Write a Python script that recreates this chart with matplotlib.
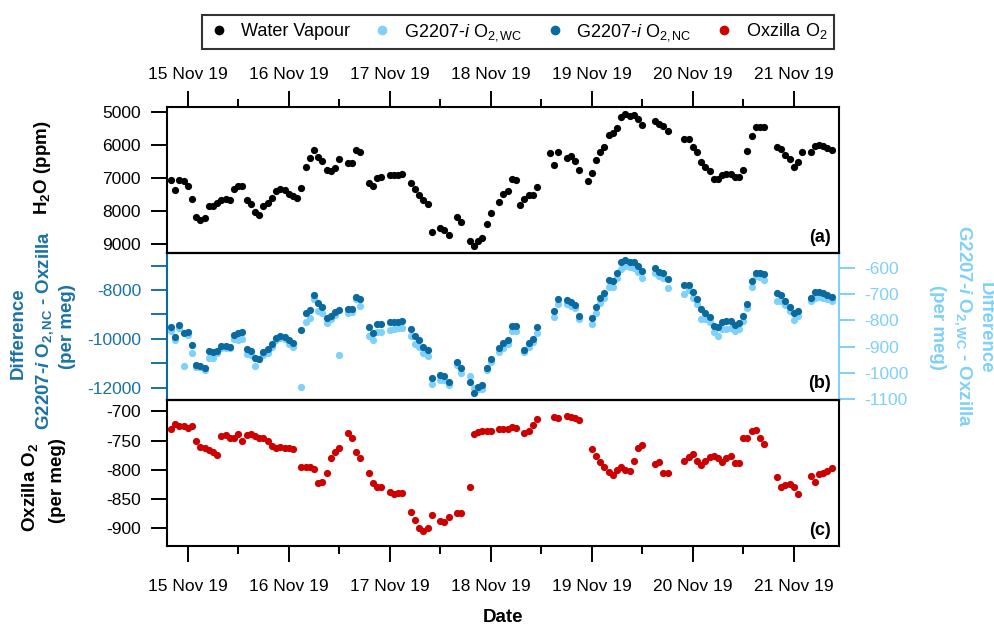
import numpy as np
import matplotlib
matplotlib.use("Agg")
import matplotlib.pyplot as plt
import matplotlib.dates as mdates
from matplotlib.lines import Line2D
from matplotlib.ticker import FixedLocator

plt.rcParams['font.family'] = ['Liberation Sans', 'DejaVu Sans']
plt.rcParams['font.size'] = 12.5
plt.rcParams['axes.unicode_minus'] = False
plt.rcParams['mathtext.fontset'] = 'custom'
plt.rcParams['mathtext.rm'] = 'Liberation Sans'
plt.rcParams['mathtext.it'] = 'Liberation Sans:italic'
plt.rcParams['mathtext.bf'] = 'Liberation Sans:bold'
plt.rcParams['mathtext.bfit'] = 'Liberation Sans:bold:italic'

# ---------------- data (hours after 15 Nov 2019 00:00) ----------------
h2o_hours = [-4, -3, -2, -1, 0, 1, 2, 3, 4, 5, 6, 7, 8, 9, 10, 11, 12, 13, 14, 15, 16, 17, 18, 19, 20,
             21, 22, 23, 24, 25, 26, 27, 28, 29, 30, 31, 32, 33, 34, 35, 36, 38, 39, 40, 41, 43, 44, 45,
             46, 48, 49, 50, 51, 53, 54, 55, 56, 57, 58, 60, 61, 62, 64, 65, 67, 68, 69, 70, 71, 72, 74,
             75, 76, 77, 78, 79, 80, 81, 82, 83, 86, 87, 88, 90, 91, 92, 93, 95, 96, 97, 98, 99, 100,
             101, 102, 103, 104, 105, 106, 107, 108, 111, 112, 113, 114, 118, 119, 120, 121, 122, 123,
             124, 125, 126, 127, 128, 129, 130, 131, 132, 133, 134, 135, 136, 137, 140, 141, 142, 143,
             144, 145, 146, 148, 149, 150, 151, 152, 153]
h2o_ppm = [7080, 7360, 7080, 7110, 7250, 7650, 8180, 8280, 8220, 7840, 7850, 7770, 7670, 7650, 7670,
           7330, 7250, 7250, 7680, 7800, 8030, 8120, 7840, 7750, 7600, 7400, 7330, 7380, 7480, 7550,
           7600, 7300, 6670, 6400, 6150, 6380, 6500, 6770, 6800, 6710, 6420, 6550, 6550, 6170, 6230,
           7170, 7250, 7020, 6970, 6930, 6920, 6910, 6870, 7150, 7350, 7530, 7680, 7800, 8650, 8530,
           8590, 8720, 8170, 8330, 8900, 9070, 8900, 8820, 8410, 8050, 7730, 7490, 7410, 7030, 7080,
           7830, 7650, 7510, 7510, 7280, 6250, 6600, 6230, 6400, 6350, 6500, 6760, 7110, 6850, 6470,
           6220, 6070, 5700, 5650, 5500, 5150, 5070, 5120, 5110, 5220, 5400, 5290, 5370, 5430, 5600,
           5830, 5830, 6070, 6230, 6530, 6670, 6780, 7050, 7050, 6930, 6870, 6880, 6970, 6970, 6750,
           6200, 5750, 5450, 5450, 5470, 6080, 6130, 6300, 6430, 6670, 6530, 6230, 6210, 6030, 6000,
           6030, 6100, 6170]

diff_hours = [-4, -3, -2, -1, 0, 1, 2, 3, 4, 5, 6, 7, 8, 9, 10, 11, 12, 13, 14, 15, 16, 17, 18, 19, 20,
              21, 22, 23, 24, 25, 27, 28, 29, 30, 31, 32, 33, 34, 35, 36, 38, 39, 40, 41, 43, 44, 45, 46,
              48, 49, 50, 51, 53, 54, 55, 56, 57, 58, 60, 61, 62, 64, 65, 67, 68, 69, 70, 71, 72, 74, 75,
              76, 77, 78, 80, 81, 82, 83, 87, 88, 90, 91, 92, 93, 96, 97, 98, 99, 100, 101, 102, 103,
              104, 105, 106, 107, 108, 111, 112, 113, 114, 118, 119, 120, 121, 122, 123, 124, 125, 126,
              127, 128, 129, 130, 131, 132, 133, 134, 135, 136, 137, 140, 141, 142, 143, 144, 145, 148,
              149, 150, 151, 152, 153]
diff_nc = [-9527, -9910, -9432, -9773, -9705, -10251, -11084, -11112, -11207, -10497, -10524, -10497,
           -10292, -10278, -10319, -9841, -9773, -9732, -10429, -10483, -10798, -10811, -10552, -10429,
           -10224, -9978, -9869, -9910, -10046, -10183, -9636, -8953, -8817, -8202, -8544, -8708, -9131,
           -9063, -8912, -8817, -8789, -8776, -8270, -8380, -9527, -9746, -9391, -9391, -9322, -9309,
           -9295, -9254, -9609, -9882, -10046, -10319, -10456, -11590, -11494, -11521, -11754, -10961,
           -11207, -11781, -12204, -11986, -11904, -11180, -10838, -10388, -10183, -10046, -9472, -9472,
           -10456, -10183, -10019, -9527, -8858, -8380, -8407, -8503, -8612, -9063, -9158, -8680, -8339,
           -8106, -7587, -7615, -7287, -6863, -6768, -6836, -6836, -7014, -7219, -7109, -7246, -7314,
           -7560, -7792, -7792, -8066, -8380, -8789, -8953, -9090, -9472, -9527, -9295, -9254, -9254,
           -9432, -9363, -9063, -8585, -7628, -7287, -7287, -7342, -8134, -8202, -8448, -8680, -8926,
           -8858, -8339, -8066, -8066, -8106, -8202, -8298]
diff_wc = [-839, -874, -829, -973, -854, -922, -975, -978, -988, -941, -942, -923, -905, -903, -905,
           -870, -874, -871, -928, -932, -973, -948, -932, -923, -901, -876, -866, -870, -889, -901,
           -1053, -808, -792, -721, -765, -771, -812, -796, -780, -932, -771, -767, -721, -746, -858,
           -874, -845, -845, -837, -833, -830, -829, -861, -889, -901, -922, -934, -1041, -1025, -1027,
           -1046, -969, -998, -1010, -1056, -1062, -1062, -990, -957, -920, -903, -889, -839, -839,
           -920, -901, -882, -849, -789, -740, -740, -746, -752, -796, -814, -773, -734, -715, -672,
           -672, -641, -604, -594, -597, -601, -616, -638, -619, -631, -641, -676, -700, -684, -715,
           -740, -796, -796, -808, -845, -858, -833, -833, -829, -839, -833, -802, -752, -672, -631,
           -635, -647, -728, -728, -742, -765, -799, -783, -728, -715, -713, -715, -721, -728]

oxz_hours = diff_hours
oxz_o2 = [-730, -721, -725, -726, -729, -725, -751, -761, -763, -767, -770, -775, -742, -740, -745,
          -745, -739, -751, -740, -739, -742, -745, -745, -750, -759, -763, -761, -763, -763, -765,
          -795, -795, -796, -799, -822, -820, -805, -779, -769, -762, -738, -746, -769, -779, -805,
          -823, -830, -830, -837, -841, -839, -839, -872, -885, -899, -905, -899, -877, -887, -889,
          -880, -873, -873, -830, -739, -735, -734, -734, -733, -730, -730, -730, -727, -729, -738,
          -734, -723, -713, -710, -711, -709, -710, -711, -715, -765, -776, -786, -795, -803, -809,
          -801, -796, -801, -802, -785, -763, -757, -790, -787, -806, -806, -785, -778, -773, -785,
          -791, -785, -778, -776, -779, -787, -779, -776, -789, -789, -745, -745, -734, -732, -745,
          -756, -812, -830, -826, -825, -830, -842, -810, -821, -807, -805, -802, -797]

date_fmt = '%d %b %y'

# ---------------- styling ----------------
BLACK = '#000000'
DARK = '#0a6a9e'
LIGHT = '#7fd0fa'
RED = '#cc0000'
DARK_TXT = '#1a72a6'
LIGHT_TXT = '#7fd0fa'
TICK_FS = 12.5
LAB_FS = 13.5

base = np.datetime64('2019-11-15T00:00')
def to_time(h):
    return base + np.array(h) * np.timedelta64(1, 'h')

W, H = 995, 625
fig = plt.figure(figsize=(W / 100, H / 100), dpi=100)

left = 166.7 / W
width = (839 - 166.7) / W
def ax_rect(top_px, bot_px):
    return [left, 1 - bot_px / H, width, (bot_px - top_px) / H]

ax_a = fig.add_axes(ax_rect(107.3, 253.3))
ax_b = fig.add_axes(ax_rect(253.3, 399.5), sharex=ax_a)
ax_c = fig.add_axes(ax_rect(399.5, 546.0), sharex=ax_a)
ax_bt = ax_b.twinx()

ms = 5.2
ax_a.plot(to_time(h2o_hours), h2o_ppm, 'o', color=BLACK, ms=ms, mec='none')
ax_bt.plot(to_time(diff_hours), diff_wc, 'o', color=LIGHT, ms=ms, mec='none')
ax_b.plot(to_time(diff_hours), diff_nc, 'o', color=DARK, ms=ms, mec='none')
ax_c.plot(to_time(oxz_hours), oxz_o2, 'o', color=RED, ms=ms, mec='none')

ax_b.set_zorder(ax_bt.get_zorder() + 1)
ax_b.patch.set_visible(False)

ax_a.set_xlim(np.datetime64('2019-11-14T19:00'), np.datetime64('2019-11-21T10:45'))

ax_a.set_ylim(9280, 4870)
ax_a.set_yticks([5000, 6000, 7000, 8000, 9000])
ax_b.set_ylim(-12490, -6490)
ax_b.yaxis.set_major_locator(FixedLocator([-8000, -10000, -12000]))
ax_b.yaxis.set_minor_locator(FixedLocator([-7000, -9000, -11000]))
ax_bt.set_ylim(-1100, -546)
ax_bt.set_yticks([-600, -700, -800, -900, -1000, -1100])
ax_c.set_ylim(-930, -680)
ax_c.set_yticks([-700, -750, -800, -850, -900])

spine_lw = 1.5
for ax in (ax_a, ax_b, ax_c, ax_bt):
    for s in ax.spines.values():
        s.set_linewidth(spine_lw)

tick_len = 11.5
tw = 1.4
ax_a.tick_params(axis='y', which='both', direction='out', length=tick_len, width=tw, pad=7, labelsize=TICK_FS)
ax_c.tick_params(axis='y', which='both', direction='out', length=tick_len, width=tw, pad=7, labelsize=TICK_FS)
ax_b.tick_params(axis='y', which='both', direction='out', length=tick_len, width=tw, pad=7, labelsize=TICK_FS,
                 colors=DARK_TXT)
ax_bt.tick_params(axis='y', which='both', direction='out', length=tick_len, width=tw, pad=7, labelsize=TICK_FS,
                  colors=LIGHT_TXT)
ax_b.spines['left'].set_color(DARK)
ax_b.spines['right'].set_visible(False)
ax_bt.spines['right'].set_color(LIGHT)
ax_bt.spines['left'].set_visible(False)

# x axes
for ax in (ax_a, ax_c):
    ax.xaxis.set_major_locator(mdates.DayLocator())
    ax.xaxis.set_minor_locator(mdates.HourLocator(byhour=[12]))
    ax.xaxis.set_major_formatter(mdates.DateFormatter(date_fmt))

ax_a.tick_params(axis='x', which='both', bottom=False, labelbottom=False, top=True, labeltop=True,
                 direction='out', width=tw, labelsize=TICK_FS)
ax_a.tick_params(axis='x', which='major', length=tick_len, pad=7)
ax_a.tick_params(axis='x', which='minor', length=5.8)
ax_b.tick_params(axis='x', which='both', bottom=False, top=False, labelbottom=False, labeltop=False)
ax_bt.tick_params(axis='x', which='both', bottom=False, top=False, labelbottom=False, labeltop=False)
ax_c.tick_params(axis='x', which='both', bottom=True, labelbottom=True, top=False, labeltop=False,
                 direction='out', width=tw, labelsize=TICK_FS)
ax_c.tick_params(axis='x', which='major', length=tick_len, pad=12)
ax_c.tick_params(axis='x', which='minor', length=5.8)

# panel labels
for ax, lab in ((ax_a, '(a)'), (ax_b, '(b)'), (ax_c, '(c)')):
    ax.text(0.988, 0.05, lab, transform=ax.transAxes, ha='right', va='bottom',
            fontsize=13, fontweight='bold', zorder=10)

def ftext(x, y, s, **kw):
    fig.text(x / W, 1 - y / H, s, ha='center', va='center', fontsize=LAB_FS, fontweight='bold', **kw)

ftext(43, 168, r'H$_\mathdefault{2}$O (ppm)', rotation=90)
ftext(18, 333, 'Difference', rotation=90, color=DARK_TXT)
ftext(45, 330, r'G2207-$\mathbfit{i}$ O$_\mathdefault{2,NC}$ - Oxzilla', rotation=90, color=DARK_TXT)
ftext(68, 327, '(per meg)', rotation=90, color=DARK_TXT)
ftext(30, 487, r'Oxzilla O$_\mathdefault{2}$', rotation=90)
ftext(57, 481, '(per meg)', rotation=90)
ftext(985, 328, 'Difference', rotation=270, color=LIGHT_TXT)
ftext(963, 326, r'G2207-$\mathbfit{i}$ O$_\mathdefault{2,WC}$ - Oxzilla', rotation=270, color=LIGHT_TXT)
ftext(938, 327, '(per meg)', rotation=270, color=LIGHT_TXT)
ftext(503, 618, 'Date')

# legend
handles = [
    Line2D([], [], ls='none', marker='o', color=BLACK, ms=7, mec='none'),
    Line2D([], [], ls='none', marker='o', color=LIGHT, ms=7, mec='none'),
    Line2D([], [], ls='none', marker='o', color=DARK, ms=7, mec='none'),
    Line2D([], [], ls='none', marker='o', color=RED, ms=7, mec='none'),
]
labels = ['Water Vapour', r'G2207-$\mathit{i}$ O$_\mathdefault{2,WC}$',
          r'G2207-$\mathit{i}$ O$_\mathdefault{2,NC}$', r'Oxzilla O$_\mathdefault{2}$']
leg = fig.legend(handles, labels, loc='center', bbox_to_anchor=(518 / W, 1 - 32 / H), ncol=4,
                 frameon=True, fancybox=False, edgecolor='black', fontsize=13,
                 handlelength=1.2, handletextpad=0.6, columnspacing=1.2, borderpad=0.35)
leg.get_frame().set_linewidth(1.5)

fig.savefig('out.png', dpi=100)
